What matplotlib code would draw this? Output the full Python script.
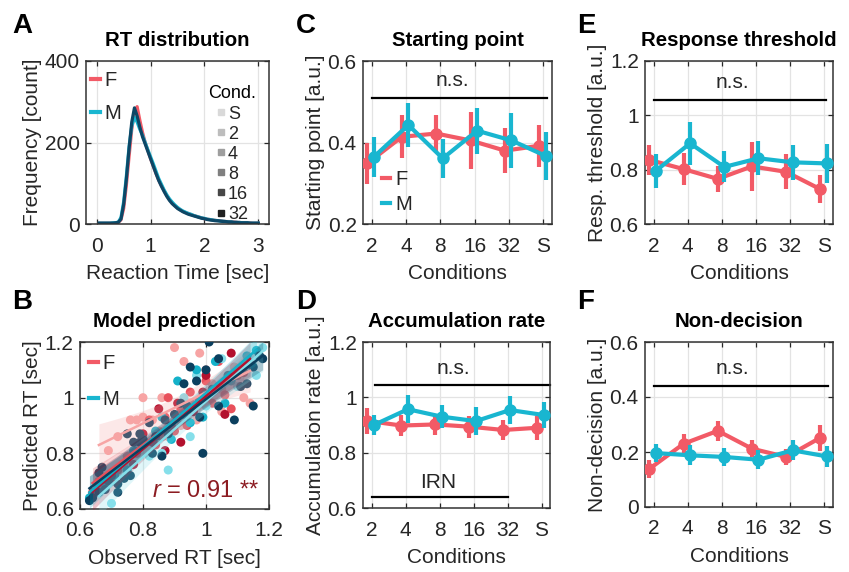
import numpy as np
import matplotlib
matplotlib.use("Agg")
import matplotlib.pyplot as plt
from matplotlib.lines import Line2D

plt.rcParams['font.family'] = ['Liberation Sans', 'DejaVu Sans']
plt.rcParams['mathtext.fontset'] = 'custom'
plt.rcParams['mathtext.rm'] = 'Liberation Sans'
plt.rcParams['mathtext.it'] = 'Liberation Sans:italic'

# ---- data ----
conds = ['2', '4', '8', '16', '32', 'S']
cond_legend = ['S', '2', '4', '8', '16', '32']
cond_greys = ['#d9d9d9', '#bdbdbd', '#9e9e9e', '#7f7f7f', '#474747', '#1f1f1f']

# RT histogram (bin centres in sec, counts)
rt_bins = [0.05, 0.10, 0.15, 0.20, 0.25, 0.30, 0.35, 0.40, 0.45, 0.50,
           0.55, 0.60, 0.65, 0.70, 0.75, 0.80, 0.85, 0.90, 0.95, 1.00,
           1.05, 1.10, 1.15, 1.20, 1.25, 1.30, 1.35, 1.40, 1.45, 1.50,
           1.55, 1.60, 1.65, 1.70, 1.75, 1.80, 1.85, 1.90, 1.95, 2.00,
           2.05, 2.10, 2.15, 2.20, 2.25, 2.30, 2.35, 2.40, 2.45, 2.50,
           2.55, 2.60, 2.65, 2.70, 2.75, 2.80, 2.85, 2.90, 2.95, 3.00]
rt_F = [2, 2, 2, 2, 2, 3, 3, 4, 10, 38, 95, 165, 232, 275, 288, 255, 225, 200, 180, 160,
        142, 124, 108, 94, 82, 70, 60, 52, 45, 40, 35, 31, 28, 26, 23, 21, 19, 17, 15, 13,
        12, 11, 10, 9, 8, 8, 7, 6, 6, 5, 5, 4, 4, 3, 3, 3, 3, 2, 2, 2]
rt_M = [2, 2, 2, 2, 2, 3, 3, 5, 16, 55, 118, 190, 240, 262, 250, 232, 218, 200, 182, 165,
        148, 130, 112, 98, 84, 72, 62, 54, 47, 41, 36, 32, 29, 26, 24, 21, 19, 17, 15, 14,
        12, 11, 10, 9, 8, 7, 7, 6, 5, 5, 4, 4, 4, 3, 3, 3, 2, 2, 2, 2]
rt_M32 = [2, 2, 2, 2, 2, 2, 3, 4, 12, 48, 110, 185, 250, 285, 265, 238, 214, 196, 178, 160,
          142, 124, 107, 93, 80, 68, 58, 50, 44, 38, 34, 30, 27, 24, 22, 20, 18, 16, 14, 13,
          11, 10, 9, 8, 8, 7, 6, 6, 5, 5, 4, 4, 3, 3, 3, 3, 2, 2, 2, 2]

# Model prediction: observed / predicted RT per group
obs_F_light = [0.78, 0.80, 0.83, 0.86, 0.90, 0.93, 1.00, 1.05, 1.12, 1.14, 1.05, 0.97, 0.92,
               0.88, 0.72, 0.69, 0.75, 0.66, 0.98, 1.02, 0.85, 0.95, 1.09, 0.80, 0.76]
pred_F_light = [0.92, 0.93, 0.92, 1.00, 1.18, 1.13, 1.10, 1.03, 1.00, 0.98, 0.95, 0.92, 0.90,
                0.86, 0.86, 0.81, 0.79, 0.70, 1.16, 1.05, 0.88, 0.98, 1.11, 1.00, 0.92]
obs_F_mid = [0.82, 0.87, 0.90, 0.84, 0.92, 1.00, 1.04, 1.06, 1.10, 0.95, 0.78, 0.72, 0.66,
             0.98, 1.08, 0.94, 0.88, 1.12, 0.86, 1.02, 0.64]
pred_F_mid = [0.92, 0.93, 0.88, 0.83, 0.96, 1.06, 1.13, 1.01, 1.08, 1.02, 0.80, 0.74, 0.68,
              0.99, 0.96, 0.90, 1.00, 1.09, 0.86, 0.98, 0.66]
obs_F_dark = [0.89, 0.92, 1.00, 1.08, 0.85, 0.80, 0.96, 1.04, 0.91, 1.06, 0.77, 0.70, 0.64,
              1.14, 0.87, 0.99, 0.83]
pred_F_dark = [0.90, 0.84, 1.08, 1.16, 0.96, 0.87, 0.95, 1.04, 0.98, 0.94, 0.76, 0.70, 0.65,
               1.12, 0.81, 1.02, 0.84]
obs_M_light = [0.70, 0.88, 0.95, 1.05, 1.16, 1.18, 0.86, 0.74, 0.82, 1.00, 0.93, 0.78, 0.66,
               1.10, 0.97, 0.90]
pred_M_light = [0.62, 0.74, 0.86, 1.14, 1.08, 1.18, 0.80, 0.76, 0.79, 0.97, 1.00, 0.83, 0.66,
                1.04, 1.08, 0.92]
obs_M_mid = [0.80, 0.84, 0.93, 0.97, 1.03, 1.13, 0.89, 0.75, 0.68, 1.00, 1.08, 0.91, 0.86,
             0.77, 0.95, 1.06, 0.71, 1.16, 0.63, 0.99]
pred_M_mid = [0.85, 0.88, 0.94, 1.10, 1.13, 1.15, 0.85, 0.74, 0.69, 1.01, 1.06, 1.06, 0.93,
              0.81, 0.91, 0.98, 0.72, 1.17, 0.64, 0.93]
obs_M_dark = [0.63, 0.66, 0.69, 0.72, 0.74, 0.75, 0.77, 0.79, 0.80, 0.82, 0.84, 0.86, 0.87,
              0.90, 0.92, 0.94, 0.95, 0.98, 0.99, 1.00, 1.01, 1.02, 1.04, 1.07, 1.09, 1.11,
              1.13, 1.15, 1.17, 1.18, 1.15, 0.66, 0.67, 0.70, 0.79, 0.93, 0.97, 1.04, 0.88,
              0.83, 0.64, 0.68, 0.72, 0.76]
pred_M_dark = [0.63, 0.66, 0.70, 0.69, 0.71, 0.87, 0.84, 0.87, 0.85, 0.91, 0.86, 0.79, 0.92,
               0.94, 0.98, 0.97, 1.11, 0.93, 0.80, 1.10, 1.20, 1.03, 0.97, 1.08, 0.92, 1.04,
               1.05, 1.11, 1.15, 1.14, 0.97, 0.73, 0.75, 0.72, 0.84, 1.05, 1.06, 1.14, 0.87,
               0.80, 0.64, 0.67, 0.66, 0.72]
r_text = '$\\mathit{r}$ = 0.91 **'

# DDM parameters: mean and error per condition
start_F = [0.349, 0.414, 0.422, 0.405, 0.380, 0.392]
start_F_err = [0.051, 0.053, 0.046, 0.070, 0.055, 0.052]
start_M = [0.365, 0.443, 0.361, 0.429, 0.405, 0.367]
start_M_err = [0.049, 0.053, 0.048, 0.056, 0.068, 0.058]

rate_F = [0.915, 0.898, 0.902, 0.894, 0.882, 0.890]
rate_F_err = [0.047, 0.039, 0.039, 0.040, 0.035, 0.043]
rate_M = [0.900, 0.957, 0.930, 0.914, 0.954, 0.936]
rate_M_err = [0.036, 0.050, 0.042, 0.050, 0.052, 0.048]

thr_F = [0.836, 0.802, 0.766, 0.812, 0.792, 0.728]
thr_F_err = [0.054, 0.060, 0.048, 0.090, 0.065, 0.052]
thr_M = [0.796, 0.897, 0.810, 0.842, 0.827, 0.823]
thr_M_err = [0.062, 0.078, 0.057, 0.062, 0.065, 0.072]

nd_F = [0.139, 0.230, 0.277, 0.212, 0.182, 0.252]
nd_F_err = [0.032, 0.034, 0.037, 0.030, 0.028, 0.048]
nd_M = [0.196, 0.188, 0.182, 0.172, 0.206, 0.184]
nd_M_err = [0.033, 0.036, 0.032, 0.034, 0.036, 0.037]

# ---- style ----
C_F = '#f25a66'
C_M = '#19b6d0'
C_NAVY = '#0d4766'
TXT = '#262626'
FS = 15
FS_T = 14.7

fig = plt.figure(figsize=(8.49, 5.72), dpi=100)
W, H = 849, 572


def add_ax(x0, y0, x1, y1):
    return fig.add_axes([x0 / W, 1 - y1 / H, (x1 - x0) / W, (y1 - y0) / H])


def style(ax, xt, xtl, yt, ytl, xlim, ylim):
    ax.set_xlim(xlim)
    ax.set_ylim(ylim)
    ax.set_xticks(xt)
    ax.set_xticklabels(xtl)
    ax.set_yticks(yt)
    ax.set_yticklabels(ytl)
    ax.grid(True, color='#e3e3e3', lw=0.9)
    ax.set_axisbelow(True)
    ax.tick_params(direction='in', top=True, right=True, length=3.5, width=0.9,
                   color=TXT, labelcolor=TXT, labelsize=FS)
    ax.tick_params(axis='x', pad=9)
    ax.tick_params(axis='y', pad=4.5)
    for s in ax.spines.values():
        s.set_color('#333333')
        s.set_linewidth(1.1)


def labels(ax, title, xl, yl):
    ax.set_title(title, fontsize=FS_T, fontweight='bold', pad=11)
    ax.set_xlabel(xl, fontsize=FS, color=TXT, labelpad=6)
    ax.set_ylabel(yl, fontsize=FS, color=TXT, labelpad=2)


def fm_legend(ax, anchor, spacing):
    h = [Line2D([], [], color=C_F, lw=3), Line2D([], [], color=C_M, lw=3)]
    return ax.legend(h, ['F', 'M'], loc='upper left', bbox_to_anchor=anchor, frameon=False,
                     handlelength=0.4, handletextpad=0.25, labelspacing=spacing,
                     borderpad=0, borderaxespad=0, fontsize=FS - 0.5, labelcolor=TXT)


def panel_letter(x, y, s):
    fig.text(x / W, 1 - y / H, s, fontsize=20, fontweight='bold', va='baseline', ha='left')


# ---- A: RT distribution ----
axA = add_ax(86, 61, 269, 224)
axA.plot(rt_bins, rt_F, color=C_F, lw=2.3)
axA.plot(rt_bins, rt_M, color=C_M, lw=2.3)
axA.plot(rt_bins, rt_M32, color=C_NAVY, lw=2.3)
style(axA, [0, 1, 2, 3], ['0', '1', '2', '3'], [0, 200, 400], ['0', '200', '400'],
      (-0.2, 3.2), (0, 400))
labels(axA, 'RT distribution', 'Reaction Time [sec]', 'Frequency [count]')
legA = fm_legend(axA, (0.03, 0.94), 0.7)
axA.add_artist(legA)
hc = [Line2D([], [], color=c, marker='s', ls='none', markersize=4) for c in cond_greys]
axA.legend(hc, cond_legend, title='Cond.', loc='upper left', bbox_to_anchor=(0.67, 0.85),
           frameon=False, handlelength=0.4, handletextpad=0.2, labelspacing=0.17,
           borderpad=0, borderaxespad=0, fontsize=13, title_fontsize=13,
           labelcolor=TXT)

# ---- B: Model prediction ----
axB = add_ax(80, 342, 269, 509)
groups = [(obs_F_light, pred_F_light, '#f7a4a4'), (obs_F_mid, pred_F_mid, '#e8505b'),
          (obs_F_dark, pred_F_dark, '#b3112e'), (obs_M_light, pred_M_light, '#86dfea'),
          (obs_M_mid, pred_M_mid, '#14b1c9'), (obs_M_dark, pred_M_dark, '#0b3f5e')]
for ox, py, col in groups:
    axB.scatter(ox, py, s=42, color=col, edgecolors='none', zorder=3)
for ox, py, col in groups:
    ox = np.array(ox)
    py = np.array(py)
    k, b = np.polyfit(ox, py, 1)
    xs = np.linspace(ox.min(), ox.max(), 50)
    res = py - (k * ox + b)
    se = np.sqrt(np.sum(res ** 2) / (len(ox) - 2))
    ci = 2.0 * se * np.sqrt(1 / len(ox) + (xs - ox.mean()) ** 2 / np.sum((ox - ox.mean()) ** 2))
    axB.fill_between(xs, k * xs + b - ci, k * xs + b + ci, color=col, alpha=0.25, lw=0, zorder=4)
    axB.plot(xs, k * xs + b, color=col, lw=1.8, zorder=5)
style(axB, [0.6, 0.8, 1.0, 1.2], ['0.6', '0.8', '1', '1.2'], [0.6, 0.8, 1.0, 1.2],
      ['0.6', '0.8', '1', '1.2'], (0.6, 1.2), (0.6, 1.2))
labels(axB, 'Model prediction', 'Observed RT [sec]', 'Predicted RT [sec]')
fm_legend(axB, (0.05, 0.93), 0.85)
axB.text(0.95, 0.07, r_text, transform=axB.transAxes, ha='right', va='baseline',
         fontsize=17, color='#8c1c22', zorder=6)

# ---- C-F: DDM parameters ----
xpos = np.arange(1, len(conds) + 1)


def param_panel(ax, yF, eF, yM, eM, yt, ytl, ylim, title, ylabel, sig):
    ax.errorbar(xpos - 0.12, yF, yerr=eF, fmt='-o', color=C_F, lw=3, elinewidth=3,
                capsize=0, markersize=8, zorder=3)
    ax.errorbar(xpos + 0.07, yM, yerr=eM, fmt='-o', color=C_M, lw=3, elinewidth=3,
                capsize=0, markersize=8, zorder=4)
    for x0, x1, yl, xt, ytx, lab in sig:
        ax.plot([x0, x1], [yl, yl], color='k', lw=1.6, zorder=2, clip_on=False)
        ax.text(xt, ytx, lab, ha='center', va='baseline', fontsize=FS, color=TXT)
    style(ax, xpos, conds, yt, ytl, (0.75, 6.25), ylim)
    labels(ax, title, 'Conditions', ylabel)


axC = add_ax(363, 61, 552, 224)
param_panel(axC, start_F, start_F_err, start_M, start_M_err, [0.2, 0.4, 0.6],
            ['0.2', '0.4', '0.6'], (0.2, 0.6), 'Starting point', 'Starting point [a.u.]',
            [(1.0, 6.1, 0.51, 3.35, 0.538, 'n.s.')])
fm_legend(axC, (0.1, 0.33), 0.3)

axD = add_ax(363, 342, 550, 508)
param_panel(axD, rate_F, rate_F_err, rate_M, rate_M_err, [0.6, 0.8, 1.0, 1.2],
            ['0.6', '0.8', '1', '1.2'], (0.6, 1.2), 'Accumulation rate',
            'Accumulation rate [a.u.]',
            [(1.1, 6.25, 1.045, 3.4, 1.085, 'n.s.'), (1.0, 5.0, 0.64, 2.95, 0.672, 'IRN')])

axE = add_ax(645, 61, 833, 224)
param_panel(axE, thr_F, thr_F_err, thr_M, thr_M_err, [0.6, 0.8, 1.0, 1.2],
            ['0.6', '0.8', '1', '1.2'], (0.6, 1.2), 'Response threshold',
            'Resp. threshold [a.u.]', [(1.0, 6.05, 1.055, 3.3, 1.1, 'n.s.')])

axF = add_ax(645, 342, 833, 507)
param_panel(axF, nd_F, nd_F_err, nd_M, nd_M_err, [0, 0.2, 0.4, 0.6],
            ['0', '0.2', '0.4', '0.6'], (0, 0.6), 'Non-decision', 'Non-decision [a.u.]',
            [(1.0, 6.1, 0.44, 3.3, 0.482, 'n.s.')])

panel_letter(12, 33, 'A')
panel_letter(12, 309, 'B')
panel_letter(296, 33, 'C')
panel_letter(296, 309, 'D')
panel_letter(577, 33, 'E')
panel_letter(577, 309, 'F')

fig.savefig('out.png', dpi=100)
